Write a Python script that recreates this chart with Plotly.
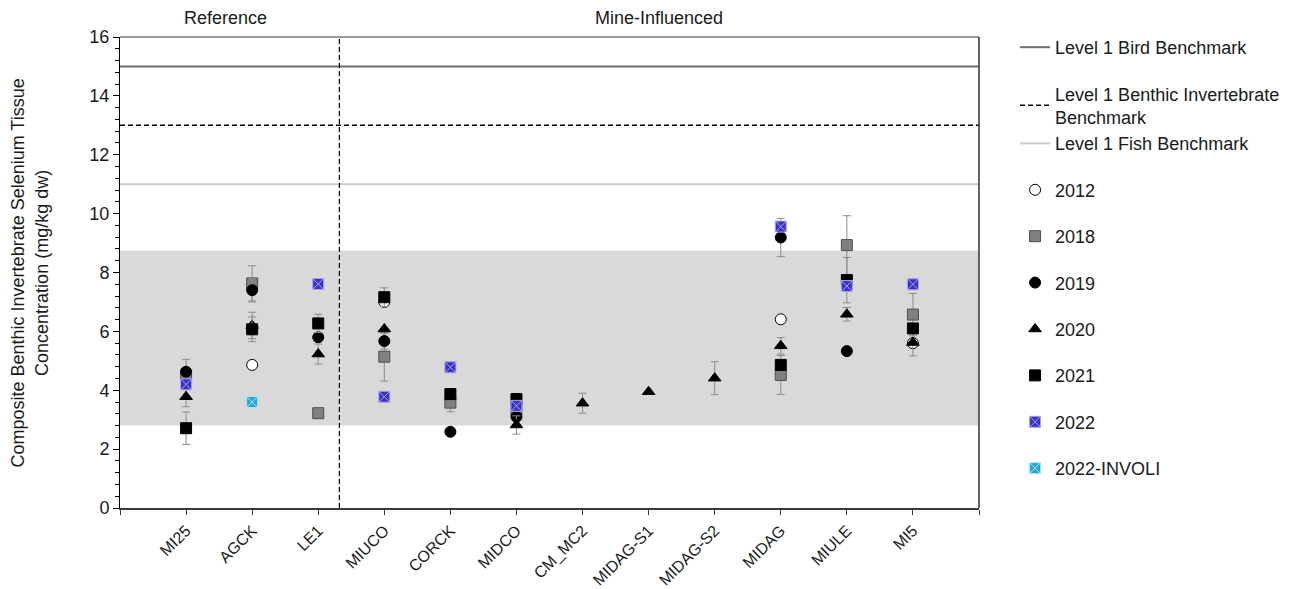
import plotly.graph_objects as go

# ---------------- data ----------------
categories = ["MI25", "AGCK", "LE1", "MIUCO", "CORCK", "MIDCO", "CM_MC2",
              "MIDAG-S1", "MIDAG-S2", "MIDAG", "MIULE", "MI5"]
cat_pos = list(range(1, len(categories) + 1))

N = None
y2012 = [N, 4.86, N, 7.00, N, N, N, N, N, 6.41, N, 5.60]
y2018 = [4.48, 7.63, 3.22, 5.14, 3.58, 3.35, N, N, N, 4.52, 8.93, 6.57]
e2018 = [N, 0.60, N, 0.83, 0.31, N, N, N, N, 0.66, 1.00, 0.72]
y2019 = [4.63, 7.40, 5.80, 5.67, 2.59, 3.10, N, N, N, 9.19, 5.33, N]
e2019 = [0.42, 0.40, N, 0.27, N, N, N, N, N, 0.65, N, N]
y2020 = [3.78, 6.20, 5.23, 6.08, N, 2.82, 3.56, 3.95, 4.41, 5.51, 6.58, 5.62]
e2020 = [0.34, 0.45, 0.34, N, N, 0.31, 0.34, N, 0.56, 0.28, 0.23, 0.45]
y2021 = [2.71, 6.07, 6.27, 7.16, 3.87, 3.70, N, N, N, 4.86, 7.74, 6.10]
e2021 = [0.55, 0.42, 0.31, 0.32, N, N, N, N, N, N, 0.77, N]
y2022 = [4.20, N, 7.61, 3.78, 4.78, 3.47, N, N, N, 9.56, 7.54, 7.60]
y2022_involi = [N, 3.60, N, N, N, N, N, N, N, N, N, N]

bird_benchmark = 15.0
benthic_benchmark = 13.0
fish_benchmark = 11.0
reference_range = (2.8, 8.75)
divider_x = 3.32
x_range = (0, 13)
y_range = (0, 16)

FONT = "Liberation Sans, Arial, sans-serif"
TXT = "#1a1a1a"
FS = 18

fig = go.Figure()

# benchmark lines
bench = [
    ("Level 1 Bird Benchmark", bird_benchmark, dict(color="#6e6e6e", width=2), "g1"),
    ("Level 1 Benthic Invertebrate<br>Benchmark", benthic_benchmark,
     dict(color="#000000", width=1.5, dash="5px,3px"), "g2"),
    ("Level 1 Fish Benchmark", fish_benchmark, dict(color="#cccccc", width=2), "g2"),
]
for name, val, line, grp in bench:
    fig.add_trace(go.Scatter(x=list(x_range), y=[val, val], mode="lines", name=name,
                             line=line, legendgroup=grp, hoverinfo="skip"))


def err(arr):
    return dict(type="data", array=arr, visible=True, color="#8c8c8c",
                thickness=1, width=4)


series = [
    ("2012", y2012, None, dict(symbol="circle", size=11, color="#ffffff",
                               line=dict(color="#000000", width=1))),
    ("2018", y2018, e2018, dict(symbol="square", size=11, color="#808080",
                                line=dict(color="#4d4d4d", width=1))),
    ("2019", y2019, e2019, dict(symbol="circle", size=11, color="#000000",
                                line=dict(color="#000000", width=1))),
    ("2020", y2020, e2020, dict(symbol="triangle-up", size=11, color="#000000",
                                line=dict(color="#000000", width=1))),
    ("2021", y2021, e2021, dict(symbol="square", size=11, color="#000000",
                                line=dict(color="#000000", width=1))),
    ("2022", y2022, None, dict(symbol="square-x", size=11, color="#3a32c4",
                               line=dict(color="#a9a6ee", width=1))),
    ("2022-INVOLI", y2022_involi, None, dict(symbol="square-x", size=11, color="#23a6da",
                                             line=dict(color="#b3e4f6", width=1))),
]
for i, (name, ys, es, marker) in enumerate(series):
    fig.add_trace(go.Scatter(
        x=cat_pos, y=ys, mode="markers", name=name, marker=marker,
        error_y=err(es) if es else None, legendgroup=f"s{i}"))

# reference range band
fig.add_shape(type="rect", xref="paper", yref="y", x0=0, x1=1,
              y0=reference_range[0], y1=reference_range[1],
              fillcolor="#d9d9d9", line=dict(width=0), layer="below")
# divider
fig.add_shape(type="line", xref="x", yref="paper", x0=divider_x, x1=divider_x,
              y0=0, y1=1, line=dict(color="#000000", width=1.2, dash="5px,3px"))

fig.add_annotation(x=1.6, xref="x", y=1.04, yref="paper", text="Reference",
                   xanchor="center", yanchor="middle",
                   showarrow=False, font=dict(size=FS, color=TXT, family=FONT))
fig.add_annotation(x=8.15, xref="x", y=1.04, yref="paper", text="Mine-Influenced",
                   xanchor="center", yanchor="middle",
                   showarrow=False, font=dict(size=FS, color=TXT, family=FONT))
fig.add_annotation(x=-0.1048, xref="paper", y=0.5, yref="paper", textangle=-90,
                   xanchor="center", yanchor="middle",
                   text="Composite Benthic Invertebrate Selenium Tissue<br>Concentration (mg/kg dw)",
                   showarrow=False, font=dict(size=FS, color=TXT, family=FONT))

fig.update_layout(
    width=1285, height=581,
    margin=dict(l=112, r=314, t=29, b=81, autoexpand=False),
    paper_bgcolor="white", plot_bgcolor="white",
    font=dict(family=FONT, size=FS, color=TXT),
    showlegend=True,
    legend=dict(x=1.042, xanchor="left", y=1.017, yanchor="top",
                font=dict(size=FS, color=TXT, family=FONT),
                tracegroupgap=20, bgcolor="rgba(0,0,0,0)", itemwidth=30),
    xaxis=dict(range=list(x_range), tickmode="array", tickvals=list(range(0, 14)),
               ticktext=[""] + categories + [""], tickangle=-45, automargin=False,
               showgrid=False, zeroline=False, showline=True, linecolor="#3a3a3a",
               linewidth=2, mirror=False, ticks="outside", ticklen=5,
               tickcolor="#3a3a3a", tickfont=dict(size=16, color=TXT, family=FONT)),
    yaxis=dict(range=list(y_range), tickmode="linear", tick0=0, dtick=2, automargin=False,
               showgrid=False, zeroline=False, showline=True, linecolor="#000000",
               linewidth=1, mirror=False, ticks="outside", ticklen=6, tickcolor="#000000",
               minor=dict(dtick=0.4, ticks="outside", ticklen=4, tickcolor="#000000"),
               tickfont=dict(size=FS, color=TXT, family=FONT)),
)
try:
    fig.update_layout(legend_maxheight=560)
except Exception:
    pass

# right and top frame
fig.add_shape(type="line", xref="paper", yref="paper", x0=1, x1=1, y0=0, y1=1,
              line=dict(color="#333333", width=1.5))
fig.add_shape(type="line", xref="paper", yref="paper", x0=0, x1=1, y0=1, y1=1,
              line=dict(color="#333333", width=1))

fig.write_html("out.html")
